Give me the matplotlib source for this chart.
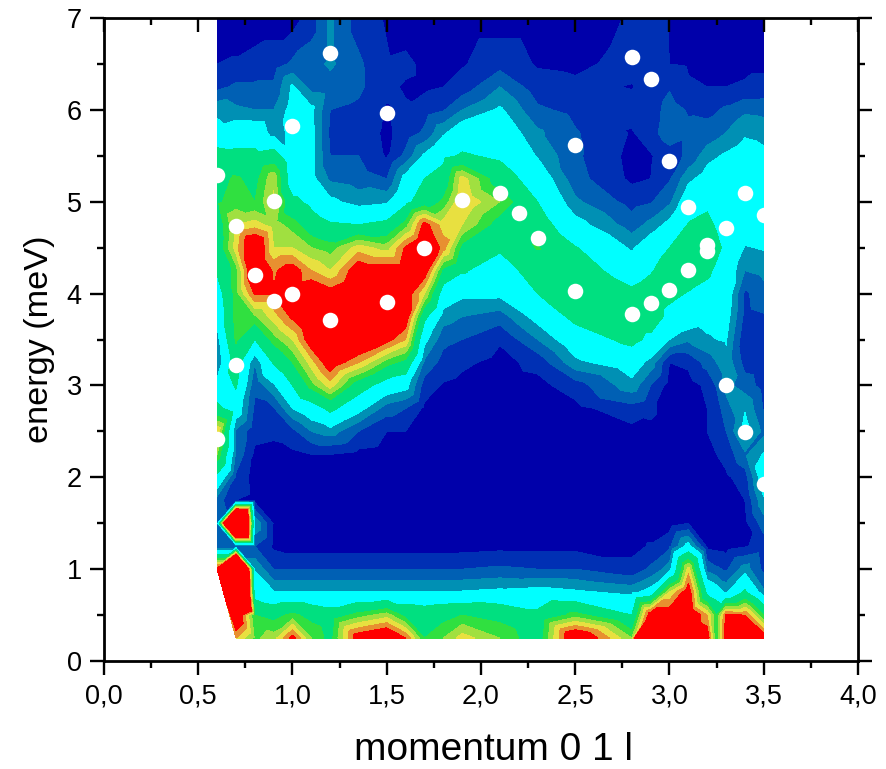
import numpy as np
import matplotlib
matplotlib.use('Agg')
import matplotlib.pyplot as plt

plt.rcParams['font.family'] = ['Liberation Sans', 'DejaVu Sans']

# momentum columns and energy rows of the intensity table
momentum = [0.6, 0.7, 0.8, 0.9, 1.0, 1.1, 1.2, 1.35, 1.5, 1.6, 1.7, 1.8, 1.9,
            2.1, 2.3, 2.5, 2.8, 2.9, 3.0, 3.1, 3.2, 3.25, 3.3, 3.4, 3.5]
energy = [7, 6.5, 6.25, 6, 5.75, 5.5, 5.25, 5, 4.75, 4.5, 4.25, 4, 3.75, 3.5,
          3.25, 3, 2.75, 2.5, 2.25, 2, 1.75, 1.5, 1.25, 1, 0.75, 0.5, 0.25]
nan = float('nan')

# one list per momentum, energy going from 7 down to 0.25
intensity = [
    [.5, 1, 1.7, 3.7, 4.5, 6.8, 7.5, 7.8, 7, 6.8, 6.2, 5, 4.5, 3.5, 3, 4.5, 6.5, 11, 9, 5.5, 2.5, 3, 2, 13, nan, nan, nan],
    [.5, 1.1, 2.2, 3.2, 5, 6.5, 8.2, 8.5, 10, 10.5, 8.5, 8.5, 8.5, 8.2, 7, 6.2, 5, 2.8, 2.8, 1.8, 1, 30, 2, 30, 30, 14, 11],
    [.5, 1.3, 2.2, 3, 5, 6.5, 7.5, 8, 10.5, 14, 14, 12.2, 8.8, 6, 3, 2.2, 1.8, 1.3, .8, .6, .7, 3.9, 2, 3.9, 5, 8, 8.8],
    [.5, 1.5, 2.2, 3, 3.5, 7, 9.8, 10.2, 9.5, 10, 11.8, 12.1, 10.5, 8.5, 6.2, 3.8, 1.9, 1.2, .7, .5, .5, .9, .8, 2, 4.1, 7.5, 9.5],
    [.5, 2.2, 4.2, 4.5, 4.3, 4.3, 4.5, 6.5, 8.5, 10, 12.8, 13, 12.3, 10, 8, 6, 4, 1.7, .8, .5, .5, .5, .5, 2, 4.1, 8.3, 12.5],
    [1.5, 2.5, 2.6, 4.3, 4.4, 4.4, 4.4, 5.5, 7, 9, 11, 13.5, 14, 13, 10.5, 8.5, 5, 3, 1, .6, .5, .5, .5, 2, 4.1, 7.5, 9],
    [3.2, 3.2, 2.5, 2, 1.8, 2, 2.8, 4.3, 6.2, 8.5, 10, 12.6, 14, 14, 13, 10.5, 6.5, 3.5, 1, .5, .5, .5, .5, 2, 4.1, 7, 7.5],
    [1.5, 2.2, 2.2, 1.8, 1.6, 2, 2.5, 3.5, 6, 10.5, 13, 14, 14, 14, 11, 7, 4.5, 2, .7, .5, .5, .5, .5, 2, 4.1, 8.5, 13],
    [.9, 1.1, 1.2, .9, .8, .9, 2, 3.8, 6.5, 9.5, 13, 14, 14, 12.5, 8.5, 5, 2.5, 1, .5, .5, .5, .5, .5, 2, 4.1, 9.5, 14],
    [.5, 1.2, .9, 1.1, 1.4, 2.3, 4.5, 5.5, 8.5, 12.2, 13, 13, 13, 11, 7.5, 4.5, 2, 1, .5, .5, .5, .5, .5, 2, 4.1, 7.5, 12],
    [.5, .8, .8, 1.5, 2.2, 4.2, 6, 7, 12.5, 14, 13, 10, 6.5, 4.4, 2.8, 1.5, .8, .5, .5, .5, .5, .5, .5, 2, 4.1, 7.2, 8],
    [.5, .5, 1, 1.9, 3.8, 5.5, 6.8, 8.2, 10.5, 11.5, 7.5, 5, 3.5, 2.3, 1.6, .9, .5, .5, .5, .5, .5, .5, .5, 2, 4.1, 7.5, 9],
    [.5, .9, 1.4, 3, 5, 6.2, 10.5, 11, 10, 7.5, 6.2, 4.3, 3, 2, 1.2, .7, .5, .5, .5, .5, .5, .5, .6, 2, 4.1, 8, 10.5],
    [.5, 1.6, 3, 4.2, 5, 5.7, 7, 9, 7.3, 6.3, 5, 4.3, 2.5, 1.1, .7, .5, .5, .5, .5, .5, .5, .5, .7, 2.2, 4.3, 7.5, 9],
    [.5, .9, 1.4, 2.2, 3.2, 3.9, 5, 6, 7, 8.1, 7, 6, 4.5, 3, 1.3, .7, .5, .5, .5, .5, .5, .5, .7, 2, 4.5, 6.5, 7],
    [.5, .8, 1.2, 1.7, 2.1, 2.2, 2.4, 3.2, 4.5, 6.1, 7, 8.1, 6.5, 5, 3.7, 1.5, .7, .5, .5, .5, .5, .5, .7, 2, 4.2, 8.5, 14],
    [1.1, 1.3, .95, 1.4, .9, .7, .8, 1.6, 2.5, 3.8, 5, 6.4, 7, 6.5, 4.8, 3.6, 1.6, .7, .5, .5, .5, .5, .7, 1.3, 3.7, 6, 9],
    [1.8, 1.5, 1.3, 1.5, 1.6, .9, 1, 1.9, 3.3, 5, 5.8, 7, 7, 5.6, 3.6, 2, 1.2, .8, .5, .5, .5, .5, 1.1, 2.2, 4.5, 13, 30],
    [.9, 1, 1.9, 2.4, 2.6, 1.5, 1.9, 2.8, 4.4, 6, 7, 6.4, 5.5, 4, 1, .6, .5, .5, .5, .5, .5, .5, 1.8, 3.5, 10, 13, 13],
    [.6, .9, 1.1, 1.9, 2.2, 2.2, 3.7, 5, 6.1, 7, 7, 5.9, 5, 3.2, 1.2, .6, .5, .5, .5, .5, .5, 1, 4.5, 10.5, 13, 14, 14],
    [.5, .7, 1, 1.8, 2.3, 3.6, 4.6, 5.6, 6.5, 7, 6.3, 5.5, 4.6, 3.8, 2.4, 1.2, 1, 1, .9, .5, .5, .5, .8, 2.7, 5.5, 11, 13],
    [.5, .7, 1, 1.9, 2.6, 3.9, 4.8, 5.3, 5.8, 6.4, 5.7, 5.2, 4.6, 4, 3, 2.1, 1.5, 1.2, 1, .6, .5, .5, .7, 2.2, 4.8, 8, 8],
    [.5, .7, 1, 2.2, 3, 4.2, 5, 5, 5, 5.6, 5.1, 5, 4.6, 4.1, 3.7, 3.3, 2.6, 2, 1.4, .8, .6, .5, .6, 1.8, 3.8, 12.2, 13],
    [.5, .8, 1.1, 2.8, 3.8, 4.7, 5, 5, 5, 3.9, 3, 1.8, 1.7, 1.2, 1.6, 2.5, 3.9, 4.5, 2.8, 1.5, 1, .7, .9, 3.5, 6.3, 12, 14],
    [.5, .8, 1.3, 2.7, 3.6, 4.3, 5, 5, 4.9, 4.1, 3.3, 2.6, 1.9, 1.4, 1.4, 1.6, 1.9, 2.7, 4.1, 5, 3.8, 2.5, 1.4, 1.7, 3.2, 8, 13],
]

levels = [0, 1, 2, 3, 4, 6, 8, 9, 10, 11, 12, 100]
colors = ['#0000aa', '#0030b4', '#0060b4', '#0090b4', '#00ffff', '#00e080',
          '#30e040', '#a0e040', '#e8e040', '#e89030', '#ff0000']

# measured peak positions (white dots)
peak_q = [0.6, 0.7, 0.9, 1.0, 1.2, 1.5, 1.9, 2.1, 2.2, 2.3, 2.5, 2.8, 2.9, 3.0, 3.1, 3.3, 3.4, 3.5,
          3.2, 3.2, 3.1, 3.0, 2.9, 2.8, 2.5, 1.7, 1.5, 1.2, 1.0, 0.9, 0.8, 0.7, 0.6, 3.3, 3.4, 3.5]
peak_e = [5.29, 4.74, 5.01, 5.82, 6.62, 5.97, 5.02, 5.09, 4.88, 4.61, 5.62, 6.57, 6.34, 5.44, 4.94, 4.71, 5.09, 4.86,
          4.53, 4.46, 4.26, 4.04, 3.90, 3.78, 4.03, 4.50, 3.91, 3.71, 3.99, 3.92, 4.20, 3.22, 2.42, 3.01, 2.49, 1.93]

x_ticks = [0, 0.5, 1, 1.5, 2, 2.5, 3, 3.5, 4]
x_labels = ['0,0', '0,5', '1,0', '1,5', '2,0', '2,5', '3,0', '3,5', '4,0']
y_ticks = [0, 1, 2, 3, 4, 5, 6, 7]

# flatten the table, the missing corner is left out so the hull cuts it off
qq, ee = np.meshgrid(momentum, energy, indexing='ij')
vals = np.array(intensity)
ok = ~np.isnan(vals)

fig = plt.figure(figsize=(8.87, 7.69), dpi=100)
ax = fig.add_axes([104 / 887, 1 - 661 / 769, 754 / 887, 643 / 769])

ax.tricontourf(qq[ok], ee[ok], vals[ok], levels=levels, colors=colors)
ax.scatter(peak_q, peak_e, s=125, c='white', linewidths=0, zorder=5)

ax.set_xlim(0, 4)
ax.set_ylim(0, 7)
ax.set_xticks(x_ticks)
ax.set_xticklabels(x_labels)
ax.set_yticks(y_ticks)
ax.set_xticks(np.arange(0.25, 4, 0.5), minor=True)
ax.set_yticks(np.arange(0.5, 7, 1), minor=True)
ax.set_axisbelow(False)

ax.tick_params(which='major', direction='out', length=10, width=1.7, labelsize=19.5, pad=6)
ax.tick_params(which='minor', direction='out', length=5, width=1.7)
ax.tick_params(axis='x', which='both', top=True)
ax.tick_params(axis='y', which='both', right=True)
# top and right ticks point inwards, same as the origin plot
for tick in ax.xaxis.get_major_ticks() + ax.xaxis.get_minor_ticks():
    tick.tick2line.set_marker(3)
for tick in ax.yaxis.get_major_ticks() + ax.yaxis.get_minor_ticks():
    tick.tick2line.set_marker(1)

for s in ax.spines.values():
    s.set_linewidth(2)

ax.set_xlabel('momentum 0 1 l', fontsize=28)
ax.xaxis.set_label_coords(0.516, -0.11)
ax.set_ylabel('energy (meV)', fontsize=24.7, labelpad=8)

fig.savefig('out.png', dpi=100)
